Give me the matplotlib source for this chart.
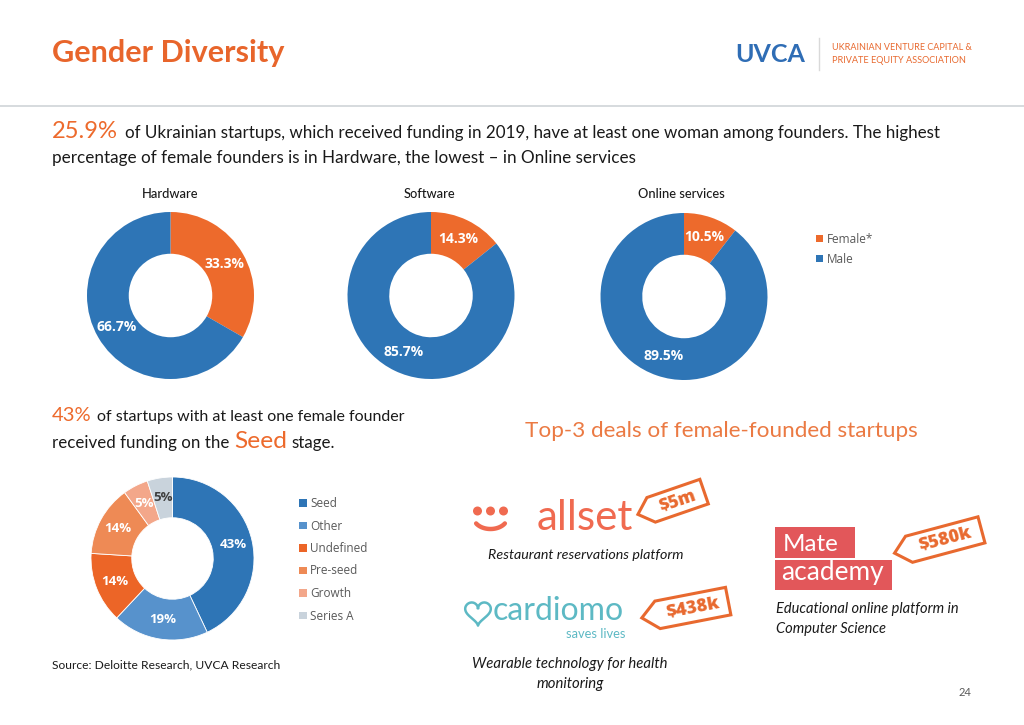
import matplotlib
matplotlib.use('Agg')
import matplotlib.pyplot as plt
import numpy as np
from matplotlib.patches import Polygon, Rectangle

# ---------------- data ----------------
sectors = ['Hardware', 'Software', 'Online services']
female_pct = [33.3, 14.3, 10.5]
male_pct = [66.7, 85.7, 89.5]
gender_labels = ['Female*', 'Male']

stages = ['Seed', 'Other', 'Undefined', 'Pre-seed', 'Growth', 'Series A']
stage_pct = [43, 19, 14, 14, 5, 5]

deal_amounts = ['$5m', '$580k', '$438k']
deal_desc = ['Restaurant reservations platform',
             'Educational online platform in\nComputer Science',
             'Wearable technology for health\nmonitoring']

# ---------------- style ----------------
ORANGE = '#ED6A2C'
BLUE = '#2E75B6'
TITLE_OR = '#E8652B'
TAG_OR = '#E8692F'
stage_colors = ['#2E75B6', '#5792CC', '#EC6527', '#EE8A55', '#F3A78A', '#C9D3DC']
BODY = 'Lato'
LABEL = 'Open Sans'
INK = '#1A1A1A'

W, H = 1024, 725
fig = plt.figure(figsize=(W / 100, H / 100), dpi=100)
bg = fig.add_axes([0, 0, 1, 1])
bg.set_xlim(0, W)
bg.set_ylim(H, 0)
bg.axis('off')
renderer = fig.canvas.get_renderer()


def txt(x, y, s, fit=None, size=10, ha='left', va='baseline', family=BODY, **kw):
    t = bg.text(x, y, s, fontsize=size, ha=ha, va=va, family=family, **kw)
    if fit:
        w = t.get_window_extent(renderer).width
        t.set_fontsize(size * fit / w)
    return t


def right_of(t, gap):
    return t.get_window_extent(renderer).x1 + gap


# ---------------- header ----------------
txt(52, 62, 'Gender Diversity', fit=233, size=20, color=TITLE_OR, fontweight='bold')
txt(735, 62, 'UVCA', fit=70, size=18, color='#2F6DB5', fontweight='bold')
bg.plot([819, 819], [38, 70], color='#D9D9D9', lw=1)
txt(832, 50, 'UKRAINIAN VENTURE CAPITAL &', fit=140, size=6.5, color=TAG_OR)
txt(832, 63, 'PRIVATE EQUITY ASSOCIATION', fit=134, size=6.5, color=TAG_OR)
bg.plot([0, W], [106, 106], color='#D3D8DB', lw=1.3)

# ---------------- paragraph ----------------
txt(52, 138, '25.9%', fit=66, size=15, color=ORANGE)
txt(125, 138, 'of Ukrainian startups, which received funding in 2019, have at least one woman among founders. The highest',
    fit=818, size=11.5, color=INK)
txt(52, 163, 'percentage of female founders is in Hardware, the lowest \u2013 in Online services',
    fit=583, size=11.5, color=INK)

# ---------------- gender donuts ----------------
centers = [(170.5, 295.5), (431, 295.5), (684, 296.5)]
title_x = [170.5, 429, 681]
R = 83.5
for (cx, cy), tx, name, f, m in zip(centers, title_x, sectors, female_pct, male_pct):
    ax = fig.add_axes([(cx - R) / W, 1 - (cy + R) / H, 2 * R / W, 2 * R / H])
    ax.pie([f, m], colors=[ORANGE, BLUE], startangle=90, counterclock=False,
           radius=1, autopct='%.1f%%', pctdistance=0.75,
           wedgeprops=dict(width=0.5, linewidth=0),
           textprops=dict(color='white', fontsize=10, fontweight='bold', family=LABEL))
    ax.set_xlim(-1, 1)
    ax.set_ylim(-1, 1)
    ax.set_aspect('equal')
    ax.axis('off')
    txt(tx, 198, name, size=9.3, ha='center', color=INK, fontweight='medium')

for i, (lab, col) in enumerate(zip(gender_labels, [ORANGE, BLUE])):
    y = 243 + 20 * i
    bg.add_patch(Rectangle((816, y - 8), 7, 7, color=col, lw=0))
    txt(827, y, lab, size=8.5, color='#595959', family=LABEL)

# ---------------- 43% text ----------------
t43 = txt(52, 421, '43%', size=14.5, color=ORANGE)
txt(right_of(t43, 5), 421, 'of startups with at least one female founder', fit=308, size=11, color=INK)
tr = txt(52, 448, 'received funding on the', fit=176, size=11, color=INK)
bs = tr.get_fontsize()
ts = txt(right_of(tr, 5), 448, 'Seed', size=bs * 1.45, color=ORANGE)
txt(right_of(ts, 4), 448, 'stage.', size=bs, color=INK)

# ---------------- stage donut ----------------
cx, cy, R2 = 172.5, 558.5, 81.5
ax = fig.add_axes([(cx - R2) / W, 1 - (cy + R2) / H, 2 * R2 / W, 2 * R2 / H])
w, t, at = ax.pie(stage_pct, colors=stage_colors, startangle=90, counterclock=False,
                  radius=1, autopct='%.0f%%', pctdistance=0.76,
                  wedgeprops=dict(width=0.5, linewidth=0.6, edgecolor='white'),
                  textprops=dict(color='white', fontsize=9.5, fontweight='bold', family=LABEL))
at[-1].set_color('#404040')
ax.set_xlim(-1, 1)
ax.set_ylim(-1, 1)
ax.set_aspect('equal')
ax.axis('off')

for i, (lab, col) in enumerate(zip(stages, stage_colors)):
    y = 507 + 22.5 * i
    bg.add_patch(Rectangle((299, y - 8), 7.5, 7.5, color=col, lw=0))
    txt(310, y, lab, size=8.5, color='#595959', family=LABEL)

txt(52, 668, 'Source: Deloitte Research, UVCA Research', fit=225, size=7.5, color=INK)

# ---------------- Top-3 deals ----------------
txt(525, 437, 'Top-3 deals of female-founded startups', fit=393, size=16, color='#EB7A43')


def tag(cx, cy, L, Hh, d, ang, label, fs):
    a = np.deg2rad(ang)
    pts = [(-L / 2, 0), (-L / 2 + d, Hh / 2), (L / 2, Hh / 2), (L / 2, -Hh / 2), (-L / 2 + d, -Hh / 2)]
    scr = [(cx + u * np.cos(a) - v * np.sin(a), cy - (u * np.sin(a) + v * np.cos(a))) for u, v in pts]
    bg.add_patch(Polygon(scr, closed=True, fill=False, edgecolor=TAG_OR, lw=2.2, joinstyle='miter'))
    u0 = d / 2
    tx, ty = cx + u0 * np.cos(a), cy - u0 * np.sin(a)
    bg.text(tx, ty, label, fontsize=fs, color=TAG_OR, fontweight='heavy', family=LABEL,
            rotation=ang, rotation_mode='anchor', ha='center', va='center')


# allset
ALL = '#F06A50'
bg.scatter([477.5, 490.5, 503.5], [511, 511, 511], s=42, color=ALL, edgecolors='none', zorder=5)
th = np.linspace(0.18 * np.pi, 0.82 * np.pi, 40)
bg.plot(490.5 + 17 * np.cos(th), 517 + 12 * np.sin(th), color=ALL, lw=3.2, solid_capstyle='round')
txt(537, 530, 'allset', fit=96, size=26, color=ALL)
tag(671, 503, 70, 26, 14, 19, deal_amounts[0], 12.5)
txt(586, 559, deal_desc[0], fit=196, size=9, ha='center', color=INK, style='italic')

# Mate academy
bg.add_patch(Rectangle((775, 527), 80, 31, color='#E2575A', lw=0))
bg.add_patch(Rectangle((775, 560), 117, 30, color='#E2575A', lw=0))
txt(783, 551, 'Mate', fit=56, size=16, color='white')
txt(781, 580, 'academy', fit=103, size=16, color='white')
tag(938, 541.5, 90, 27, 15, 15, deal_amounts[1], 13)
lines = deal_desc[1].split('\n')
t1 = txt(776, 613, lines[0], fit=183, size=9, color=INK, style='italic')
txt(776, 633, lines[1], size=t1.get_fontsize(), color=INK, style='italic')

# cardiomo
CAR = '#5DB9C4'
tt = np.linspace(0, 2 * np.pi, 200)
hx = 16 * np.sin(tt) ** 3
hy = 13 * np.cos(tt) - 5 * np.cos(2 * tt) - 2 * np.cos(3 * tt) - np.cos(4 * tt)
bg.plot(478 + 0.8 * hx, 612 - 0.8 * hy, color=CAR, lw=1.8)
txt(493, 620, 'cardiomo', fit=131, size=22, color=CAR)
txt(625, 638, 'saves lives', fit=60, size=9, ha='right', color=CAR)
tag(685, 609.5, 88, 28, 16, 11, deal_amounts[2], 13)
lines = deal_desc[2].split('\n')
t2 = txt(570, 668, lines[0], fit=195, size=9, ha='center', color=INK, style='italic')
txt(570, 688, lines[1], size=t2.get_fontsize(), ha='center', color=INK, style='italic')

txt(965, 696, '24', size=8, ha='center', color='#595959')

fig.savefig('out.png', dpi=100, facecolor='white')
